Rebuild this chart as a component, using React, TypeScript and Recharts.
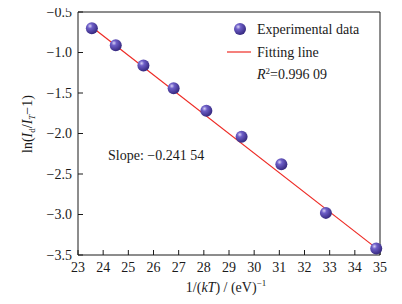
import { ReferenceLine, Scatter, ScatterChart, XAxis, YAxis } from "recharts";

const invKT = [23.55, 24.5, 25.6, 26.8, 28.1, 29.5, 31.08, 32.85, 34.85];
const lnRatio = [-0.7, -0.91, -1.16, -1.44, -1.72, -2.04, -2.38, -2.98, -3.42];
const fitX = [23.55, 34.85];
const fitY = [-0.685, -3.415];
const xTicks = [23, 24, 25, 26, 27, 28, 29, 30, 31, 32, 33, 34, 35];
const yTicks = [-0.5, -1.0, -1.5, -2.0, -2.5, -3.0, -3.5];

const points = invKT.map((x, i) => ({ x, y: lnRatio[i] }));
const fitLine = fitX.map((x, i) => ({ x, y: fitY[i] }));

const font = "'Liberation Serif', 'DejaVu Serif', serif";
const ink = "#1a1a1a";
const red = "#ee2a24";

const sphere = (props: any) => <circle cx={props.cx} cy={props.cy} r={6} fill="url(#sphere)" />;
const minus = (v: number) => v.toFixed(1).replace("-", "\u2212");

function Notes() {
  return (
    <svg width={402} height={304} style={{ position: "absolute", left: 0, top: 0, pointerEvents: "none" }}>
      <defs>
        <radialGradient id="sphere2" cx="35%" cy="32%" r="70%">
          <stop offset="0%" stopColor="#d8d2f5" />
          <stop offset="30%" stopColor="#6e5fc8" />
          <stop offset="100%" stopColor="#35287e" />
        </radialGradient>
      </defs>
      <circle cx={240} cy={29} r={6} fill="url(#sphere2)" />
      <line x1={227} x2={251} y1={52} y2={52} stroke={red} strokeWidth={1.2} />
      <text x={257} y={34} fontFamily={font} fontSize={14} fill={ink}>Experimental data</text>
      <text x={257} y={57} fontFamily={font} fontSize={14} fill={ink}>Fitting line</text>
      <text x={257} y={79} fontFamily={font} fontSize={14} fill={ink}>
        <tspan fontStyle="italic">R</tspan><tspan fontSize={9} dy={-5}>2</tspan><tspan dy={5}>=0.996 09</tspan>
      </text>
      <text x={108} y={160} fontFamily={font} fontSize={14} fill={ink}>Slope: {"\u2212"}0.241 54</text>
      <text x={226} y={292} textAnchor="middle" fontFamily={font} fontSize={14} fill={ink}>
        1/(<tspan fontStyle="italic">kT</tspan>) / (eV)<tspan fontSize={9} dy={-6}>{"\u2212"}1</tspan>
      </text>
      <text x={0} y={0} transform="translate(32,124) rotate(-90)" textAnchor="middle" fontFamily={font} fontSize={14} fill={ink}>
        ln(<tspan fontStyle="italic">I</tspan><tspan fontSize={9} dy={3}>d</tspan><tspan dy={-3}>/</tspan><tspan fontStyle="italic">I</tspan><tspan fontSize={9} fontStyle="italic" dy={3}>T</tspan><tspan dy={-3}>{"\u2212"}1)</tspan>
      </text>
    </svg>
  );
}

export default function App() {
  return (
    <div style={{ margin: -8, width: 402, height: 304, background: "#fff", position: "relative" }}>
      <ScatterChart width={402} height={304} margin={{ top: 12, right: 22, bottom: 0, left: 0 }}>
        <defs>
          <radialGradient id="sphere" cx="35%" cy="32%" r="70%">
            <stop offset="0%" stopColor="#d8d2f5" />
            <stop offset="30%" stopColor="#6e5fc8" />
            <stop offset="100%" stopColor="#35287e" />
          </radialGradient>
        </defs>
        <XAxis
          type="number"
          dataKey="x"
          domain={[23, 35]}
          ticks={xTicks}
          interval={0}
          height={49}
          tickSize={-5}
          tickMargin={12}
          stroke={ink}
          tick={{ fill: ink, fontSize: 14, fontFamily: font }}
        />
        <YAxis
          type="number"
          dataKey="y"
          domain={[-3.5, -0.5]}
          ticks={yTicks}
          interval={0}
          width={78}
          tickSize={-5}
          tickMargin={11}
          stroke={ink}
          tickFormatter={minus}
          tick={{ fill: ink, fontSize: 14, fontFamily: font }}
        />
        <ReferenceLine y={-0.5} stroke={ink} />
        <ReferenceLine x={35} stroke={ink} />
        <Scatter data={fitLine} line={{ stroke: red, strokeWidth: 1.2 }} shape={() => <g />} isAnimationActive={false} />
        <Scatter data={points} shape={sphere} isAnimationActive={false} />
      </ScatterChart>
      <Notes />
    </div>
  );
}
